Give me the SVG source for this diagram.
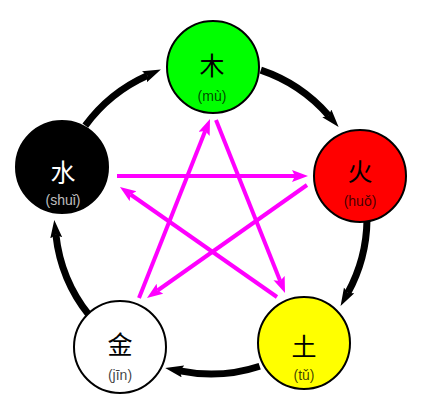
<svg xmlns="http://www.w3.org/2000/svg" width="422" height="407" viewBox="0 0 422 407">
<style>
.node{stroke:#000;stroke-width:2}
.han{font-family:"Noto Sans CJK SC","Noto Sans CJK JP",sans-serif;font-size:25px;text-anchor:middle}
.py{font-family:"Liberation Sans",Arial,sans-serif;font-size:14px;text-anchor:middle;fill-opacity:0.75}
.gen{fill:none;stroke:#000;stroke-width:7;marker-end:url(#bk)}
.ctl{fill:none;stroke:#ff00ff;stroke-width:4;marker-end:url(#pk)}
</style>
<defs>
<marker id="bk" markerUnits="userSpaceOnUse" markerWidth="20" markerHeight="14" refX="3" refY="6" orient="auto">
<path d="M0,0 L18,6 L0,12 L3,6 z" fill="#000"/>
</marker>
<marker id="pk" markerUnits="userSpaceOnUse" markerWidth="18" markerHeight="14" refX="3" refY="6" orient="auto">
<path d="M0,0 L16,6 L0,12 L3,6 z" fill="#ff00ff"/>
</marker>
</defs>
<rect width="422" height="407" fill="#fff"/>
<g id="connectors">
<path class="gen" d="M85.3,125.6 A156,156 0 0 1 147.2,75.6"/>
<path class="gen" d="M260.8,70.1 A156,156 0 0 1 328.8,115.7"/>
<path class="gen" d="M367,219.9 A156,156 0 0 1 347.8,292.9"/>
<path class="gen" d="M259.7,366.2 A156,156 0 0 1 179.9,370.9"/>
<path class="gen" d="M89.2,315.3 A156,156 0 0 1 55.9,234.8"/>
<path class="ctl" d="M117,176 L295,176"/>
<path class="ctl" d="M307,185 L157.6,290.5"/>
<path class="ctl" d="M139,298 L205.2,131.1"/>
<path class="ctl" d="M216,120 L280.2,280.9"/>
<path class="ctl" d="M277,297 L130.6,194.5"/>
</g>
<g id="wood">
<circle class="node" cx="213" cy="67" r="46" fill="#00ff00"/>
<text class="han" x="212" y="75">木</text>
<text class="py" x="212" y="101">(mù)</text>
</g>
<g id="fire">
<circle class="node" cx="360" cy="176" r="46" fill="#ff0000"/>
<text class="han" x="360" y="181">火</text>
<text class="py" x="360" y="206">(huǒ)</text>
</g>
<g id="earth">
<circle class="node" cx="304" cy="343" r="46" fill="#ffff00"/>
<text class="han" x="304" y="356">土</text>
<text class="py" x="304" y="380">(tǔ)</text>
</g>
<g id="metal">
<circle class="node" cx="120" cy="347" r="46" fill="#ffffff"/>
<text class="han" x="120" y="354">金</text>
<text class="py" x="120" y="380">(jīn)</text>
</g>
<g id="water">
<circle class="node" cx="62" cy="167" r="46" fill="#000000"/>
<text class="han" x="63" y="182" fill="#ffffff">水</text>
<text class="py" x="63" y="205" fill="#ffffff" fill-opacity="0.85">(shuǐ)</text>
</g>
</svg>
